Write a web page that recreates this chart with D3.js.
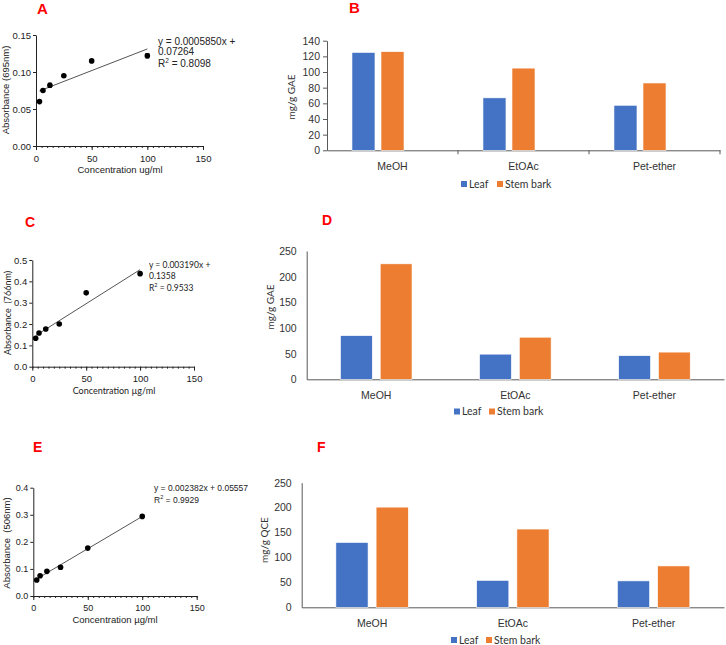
<!DOCTYPE html>
<html lang="en">
<head>
<meta charset="UTF-8">
<title>Standard curves and extract contents</title>
<style>
    body { margin: 0; background: #fff; }
    svg { display: block; }
    .panel-label { font-family: "Liberation Sans", Arial, sans-serif; font-weight: bold; fill: #ff0000; }
    .arial { font-family: "Liberation Sans", Arial, sans-serif; }
    .calibri { font-family: Lato, "Open Sans", sans-serif; }
</style>
</head>
<body>
<div id="chart"></div>
<script src="https://d3js.org/d3.v7.min.js"></script>
<script>
// Standard curves (A, C, E)
const concentrations = [3.125, 6.25, 12.5, 25, 50, 100];
const absorbanceA = [0.060, 0.075, 0.082, 0.095, 0.115, 0.122];
const errorA = [0.001, 0.001, 0.003, 0.001, 0.001, 0.003];
const absorbanceC = [0.133, 0.158, 0.177, 0.200, 0.346, 0.436];
const errorC = [0, 0, 0, 0, 0, 0];
const absorbanceE = [0.059, 0.075, 0.091, 0.106, 0.177, 0.294];
const errorE = [0.002, 0.002, 0.004, 0.007, 0.002, 0.002];
const fitA = { slope: 0.000585, intercept: 0.07264 };
const fitC = { slope: 0.003190, intercept: 0.1358 };
const fitE = { slope: 0.002382, intercept: 0.05557 };
const xTicks = [0, 50, 100, 150];

// Bar charts (B, D, F)
const solvents = ["MeOH", "EtOAc", "Pet-ether"];
const seriesNames = ["Leaf", "Stem bark"];
const phenolicLeaf = [125, 67, 57.5];
const phenolicStem = [126, 105, 86];
const gaeLeaf = [85, 49, 46];
const gaeStem = [225, 82, 53];
const flavonoidLeaf = [130, 54, 53];
const flavonoidStem = [201, 157, 83];
const colors = ["#4472c4", "#ed7d31"];

const svg = d3.select("#chart").append("svg")
    .attr("width", 726)
    .attr("height", 645);

function panelLabel(text, x, y, size) {
    svg.append("text")
        .attr("class", "panel-label")
        .attr("x", x).attr("y", y)
        .attr("font-size", size)
        .text(text);
}

function drawScatter(o) {
    const x = d3.scaleLinear().domain([0, 150]).range([o.left, o.right]);
    const y = d3.scaleLinear().domain([0, o.yMax]).range([o.bottom, o.top]);
    const g = svg.append("g").attr("class", o.font);

    // minor ticks every 5
    g.append("g")
        .attr("transform", `translate(0,${o.bottom})`)
        .call(d3.axisBottom(x).tickValues(d3.range(0, 151, 5)).tickSize(2).tickFormat(""))
        .call(a => a.select(".domain").remove())
        .selectAll("line").attr("stroke", "#222");

    const xAxis = g.append("g")
        .attr("transform", `translate(0,${o.bottom})`)
        .call(d3.axisBottom(x).tickValues(xTicks).tickSize(4).tickSizeOuter(0).tickPadding(5));
    xAxis.selectAll("text").attr("font-size", o.tickSize).attr("font-family", null).attr("fill", "#222");

    const yAxis = g.append("g")
        .attr("transform", `translate(${o.left},0)`)
        .call(d3.axisLeft(y).tickValues(o.yTicks).tickFormat(d3.format(o.yFormat)).tickSize(3).tickSizeOuter(0).tickPadding(2));
    yAxis.selectAll("text").attr("font-size", o.tickSize).attr("font-family", null).attr("fill", "#222");
    g.selectAll(".domain, .tick line").attr("stroke", "#222");

    // fit line
    g.append("line")
        .attr("x1", x(concentrations[0]))
        .attr("y1", y(o.fit.slope * concentrations[0] + o.fit.intercept))
        .attr("x2", x(100))
        .attr("y2", y(o.fit.slope * 100 + o.fit.intercept))
        .attr("stroke", "#555")
        .attr("stroke-width", 1);

    const pts = concentrations.map((c, i) => ({ c: c, v: o.values[i], e: o.errors[i] }));
    g.selectAll(".err").data(pts.filter(d => d.e > 0)).enter()
        .append("path")
        .attr("d", d => {
            const cx = x(d.c), y1 = y(d.v + d.e), y2 = y(d.v - d.e);
            return `M${cx - 2},${y1}H${cx + 2}M${cx},${y1}V${y2}M${cx - 2},${y2}H${cx + 2}`;
        })
        .attr("stroke", "#000")
        .attr("stroke-width", 0.8)
        .attr("fill", "none");
    g.selectAll(".dot").data(pts).enter()
        .append("circle")
        .attr("cx", d => x(d.c))
        .attr("cy", d => y(d.v))
        .attr("r", 2.8)
        .attr("fill", "#000");

    o.equation.forEach((line, i) => {
        const t = g.append("text")
            .attr("x", o.eqX)
            .attr("y", o.eqY[i])
            .attr("font-size", o.eqSize)
            .attr("fill", "#222");
        if (line.indexOf("R2") === 0) {
            t.append("tspan").text(o.rPrefix + "R");
            t.append("tspan").attr("dy", -4).attr("font-size", o.eqSize * 0.65).text("2");
            t.append("tspan").attr("dy", 4).text(line.slice(2));
        } else {
            t.text(line);
        }
    });

    g.append("text")
        .attr("transform", `translate(${o.yTitleX},${o.yTitleY}) rotate(-90)`)
        .attr("text-anchor", "middle")
        .attr("font-size", o.titleSize)
        .attr("fill", "#222")
        .attr("xml:space", "preserve")
        .text(o.yTitle);
    g.append("text")
        .attr("x", o.xTitleX)
        .attr("y", o.xTitleY)
        .attr("text-anchor", "middle")
        .attr("font-size", o.titleSize)
        .attr("fill", "#222")
        .text(o.xTitle);
}

function drawBars(o) {
    const x0 = d3.scaleBand().domain(solvents).range([o.left, o.right]);
    const x1 = d3.scaleBand().domain(o.slots).range([0, x0.bandwidth()])
        .paddingInner(o.inner).paddingOuter(o.outer);
    const y = d3.scaleLinear().domain([0, o.yMax]).range([o.bottom, o.top]);
    const g = svg.append("g").attr("class", "calibri");

    const yAxis = g.append("g")
        .attr("transform", `translate(${o.left},0)`)
        .call(d3.axisLeft(y).tickValues(o.yTicks).tickSize(o.yTickLen).tickSizeOuter(0).tickPadding(o.yPad));
    yAxis.selectAll("text").attr("font-size", 10.5).attr("font-family", null).attr("fill", "#333");

    const xAxis = g.append("g")
        .attr("transform", `translate(0,${o.bottom})`)
        .call(d3.axisBottom(x0).tickSize(0).tickSizeOuter(0).tickPadding(o.xPad));
    xAxis.selectAll("text").attr("font-size", 10.5).attr("font-family", null).attr("fill", "#333");
    g.selectAll(".domain, .tick line").attr("stroke", "#595959");

    if (o.catTicks) {
        g.selectAll(".cat-tick").data(solvents).enter()
            .append("line")
            .attr("x1", d => x0(d) + x0.bandwidth())
            .attr("x2", d => x0(d) + x0.bandwidth())
            .attr("y1", o.bottom)
            .attr("y2", o.bottom + 4)
            .attr("stroke", "#595959");
    }

    const rows = [];
    solvents.forEach((s, i) => {
        rows.push({ s: s, k: seriesNames[0], v: o.leaf[i], c: colors[0] });
        rows.push({ s: s, k: seriesNames[1], v: o.stem[i], c: colors[1] });
    });
    g.selectAll(".bar").data(rows).enter()
        .append("rect")
        .attr("x", d => x0(d.s) + x1(d.k))
        .attr("y", d => y(d.v))
        .attr("width", x1.bandwidth())
        .attr("height", d => o.bottom - y(d.v))
        .attr("fill", d => d.c)
        .attr("stroke", "#fff")
        .attr("stroke-width", 0.6);

    g.append("text")
        .attr("transform", `translate(${o.yTitleX},${o.yTitleY}) rotate(-90)`)
        .attr("text-anchor", "middle")
        .attr("font-size", 10)
        .attr("fill", "#333")
        .text(o.yTitle);

    // legend
    const lg = g.append("g").attr("transform", `translate(${o.legendX},${o.legendY})`);
    const offsets = [0, o.legendGap];
    seriesNames.forEach((n, i) => {
        lg.append("rect")
            .attr("x", offsets[i]).attr("y", -3)
            .attr("width", 6).attr("height", 6)
            .attr("fill", colors[i]);
        lg.append("text")
            .attr("x", offsets[i] + 8).attr("y", 3.5)
            .attr("font-size", 10.5)
            .attr("fill", "#333")
            .text(n);
    });
}

// ---- A ----
panelLabel("A", 37, 14, 15);
drawScatter({
    left: 36, right: 203, top: 35, bottom: 146, yMax: 0.15,
    yTicks: [0, 0.05, 0.10, 0.15], yFormat: ".2f",
    values: absorbanceA, errors: errorA, fit: fitA,
    font: "arial", tickSize: 9.5, titleSize: 9.5, eqSize: 10,
    equation: ["y = 0.0005850x +", "0.07264", "R2 = 0.8098"], rPrefix: "",
    eqX: 158, eqY: [45, 55, 67],
    yTitle: "Absorbance (695nm)", yTitleX: 9, yTitleY: 90,
    xTitle: "Concentration ug/ml", xTitleX: 120, xTitleY: 173
});

// ---- B ----
panelLabel("B", 349, 13, 15);
drawBars({
    left: 327, right: 720, top: 40.7, bottom: 150.3, yMax: 140,
    yTicks: d3.range(0, 141, 20), yTickLen: 4, yPad: 3, xPad: 12, catTicks: true,
    slots: ["Leaf", "Stem bark", "none"], inner: 0.207, outer: 0.86,
    leaf: phenolicLeaf, stem: phenolicStem,
    yTitle: "mg/g GAE", yTitleX: 295, yTitleY: 97,
    legendX: 461, legendY: 184, legendGap: 36
});

// ---- C ----
panelLabel("C", 25, 227, 14);
drawScatter({
    left: 32.3, right: 194, top: 260, bottom: 366.7, yMax: 0.5,
    yTicks: [0, 0.1, 0.2, 0.3, 0.4, 0.5], yFormat: ".1f",
    values: absorbanceC, errors: errorC, fit: fitC,
    font: "calibri", tickSize: 9.5, titleSize: 9, eqSize: 8.5,
    equation: ["y = 0.003190x +", "0.1358", "R2 = 0.9533"], rPrefix: " ",
    eqX: 149, eqY: [268, 279, 291],
    yTitle: "Absorbance  (766nm)", yTitleX: 11, yTitleY: 313,
    xTitle: "Concentration µg/ml", xTitleX: 114, xTitleY: 394
});

// ---- D ----
panelLabel("D", 322, 225, 14);
drawBars({
    left: 306.7, right: 724, top: 251, bottom: 379.3, yMax: 250,
    yTicks: d3.range(0, 251, 50), yTickLen: 0, yPad: 10, xPad: 12, catTicks: false,
    slots: ["Leaf", "Stem bark"], inner: 0.2, outer: 0.85,
    leaf: gaeLeaf, stem: gaeStem,
    yTitle: "mg/g GAE", yTitleX: 274, yTitleY: 307,
    legendX: 454, legendY: 411.5, legendGap: 35
});

// ---- E ----
panelLabel("E", 33, 452, 14);
drawScatter({
    left: 33.3, right: 196.7, top: 487.7, bottom: 596, yMax: 0.4,
    yTicks: [0, 0.1, 0.2, 0.3, 0.4], yFormat: ".1f",
    values: absorbanceE, errors: errorE, fit: fitE,
    font: "arial", tickSize: 9, titleSize: 9.5, eqSize: 8.5,
    equation: ["y = 0.002382x + 0.05557", "R2 = 0.9929"], rPrefix: "",
    eqX: 154, eqY: [491, 502.5],
    yTitle: "Absorbance  (506nm)", yTitleX: 10, yTitleY: 543,
    xTitle: "Concentration µg/ml", xTitleX: 115, xTitleY: 623
});

// ---- F ----
panelLabel("F", 317, 452, 14);
drawBars({
    left: 301.7, right: 724, top: 482.7, bottom: 607.3, yMax: 250,
    yTicks: d3.range(0, 251, 50), yTickLen: 0, yPad: 10, xPad: 12, catTicks: false,
    slots: ["Leaf", "Stem bark"], inner: 0.2, outer: 0.85,
    leaf: flavonoidLeaf, stem: flavonoidStem,
    yTitle: "mg/g QCE", yTitleX: 268, yTitleY: 540,
    legendX: 451, legendY: 640, legendGap: 35
});
</script>
</body>
</html>
